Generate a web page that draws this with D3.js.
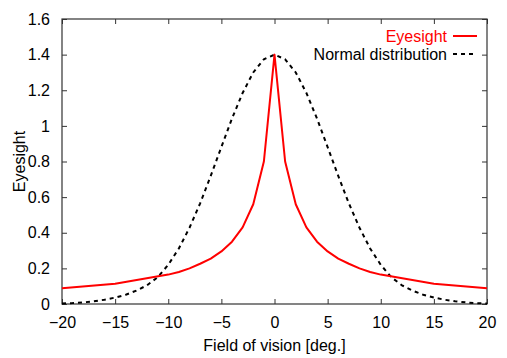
<!DOCTYPE html>
<html>
<head>
<meta charset="utf-8">
<script src="https://cdn.jsdelivr.net/npm/d3@7"></script>
<style>
  body { margin: 0; background: #fff; }
  svg text { font-family: "Liberation Sans", Arial, sans-serif; }
  .axis path { display: none; }
  .axis line { stroke: #333; }
  .axis text { font-size: 16px; fill: #000; }
</style>
</head>
<body>
<div id="chart"></div>
<script>
// eyesight (red)
var eyeX = [-20, -15, -10, -9, -8, -7, -6, -5, -4, -3, -2, -1, 0, 1, 2, 3, 4, 5, 6, 7, 8, 9, 10, 15, 20];
var eyeY = [0.088, 0.114, 0.165, 0.18, 0.2, 0.226, 0.255, 0.295, 0.35, 0.43, 0.56, 0.8, 1.4,
            0.8, 0.56, 0.43, 0.35, 0.295, 0.255, 0.226, 0.2, 0.18, 0.165, 0.114, 0.088];

// normal distribution (dashed black)
var normX = [-20, -19, -18, -17, -16, -15, -14, -13, -12, -11, -10, -9, -8, -7, -6, -5, -4, -3, -2, -1, 0,
             1, 2, 3, 4, 5, 6, 7, 8, 9, 10, 11, 12, 13, 14, 15, 16, 17, 18, 19, 20];
var normY = [0.003, 0.005, 0.009, 0.015, 0.024, 0.036, 0.052, 0.075, 0.105, 0.15, 0.22, 0.312, 0.428, 0.565, 0.719, 0.881, 1.041, 1.185, 1.3, 1.374, 1.4,
             1.374, 1.3, 1.185, 1.041, 0.881, 0.719, 0.565, 0.428, 0.312, 0.22, 0.15, 0.105, 0.075, 0.052, 0.036, 0.024, 0.015, 0.009, 0.005, 0.003];

var xTicks = [-20, -15, -10, -5, 0, 5, 10, 15, 20];
var yTicks = [0, 0.2, 0.4, 0.6, 0.8, 1, 1.2, 1.4, 1.6];

var margin = {top: 19, right: 20, bottom: 54, left: 62},
    width = 507 - margin.left - margin.right,
    height = 358 - margin.top - margin.bottom;

var svg = d3.select("#chart").append("svg")
    .attr("width", 507)
    .attr("height", 358);

var g = svg.append("g")
    .attr("transform", "translate(" + margin.left + "," + margin.top + ")");

var x = d3.scaleLinear().domain([-20, 20]).range([0, width]);
var y = d3.scaleLinear().domain([0, 1.6]).range([height, 0]);

// axes, ticks pointing inward on all four sides
g.append("g")
    .attr("class", "axis")
    .attr("transform", "translate(0," + height + ")")
    .call(d3.axisBottom(x).tickValues(xTicks).tickSizeInner(-5).tickSizeOuter(0).tickPadding(13));

g.append("g")
    .attr("class", "axis")
    .call(d3.axisTop(x).tickValues(xTicks).tickSizeInner(-5).tickSizeOuter(0).tickFormat(""));

g.append("g")
    .attr("class", "axis")
    .call(d3.axisLeft(y).tickValues(yTicks).tickSizeInner(-5).tickSizeOuter(0).tickPadding(12)
        .tickFormat(function(d) { return d3.format("")(+d.toFixed(1)); }));

g.append("g")
    .attr("class", "axis")
    .attr("transform", "translate(" + width + ",0)")
    .call(d3.axisRight(y).tickValues(yTicks).tickSizeInner(-5).tickSizeOuter(0).tickFormat(""));

// frame
g.append("rect")
    .attr("width", width)
    .attr("height", height)
    .attr("fill", "none")
    .attr("stroke", "#333")
    .attr("stroke-width", 1.2);

var line = d3.line()
    .x(function(d) { return x(d[0]); })
    .y(function(d) { return y(d[1]); });

g.append("path")
    .datum(d3.zip(normX, normY))
    .attr("fill", "none")
    .attr("stroke", "#000")
    .attr("stroke-width", 2)
    .attr("stroke-dasharray", "4,4")
    .attr("d", line);

g.append("path")
    .datum(d3.zip(eyeX, eyeY))
    .attr("fill", "none")
    .attr("stroke", "#ff0000")
    .attr("stroke-width", 2)
    .attr("stroke-linejoin", "round")
    .attr("d", line);

// legend
var legend = g.append("g").attr("transform", "translate(" + (width - 8) + ",0)");
legend.append("text")
    .attr("x", -32).attr("y", 22.5)
    .attr("text-anchor", "end")
    .attr("font-size", 16)
    .attr("fill", "#ff0000")
    .text("Eyesight");
legend.append("line")
    .attr("x1", -26).attr("x2", -2).attr("y1", 17).attr("y2", 17)
    .attr("stroke", "#ff0000").attr("stroke-width", 2);
legend.append("text")
    .attr("x", -32).attr("y", 40.5)
    .attr("text-anchor", "end")
    .attr("font-size", 16)
    .attr("fill", "#000")
    .text("Normal distribution");
legend.append("line")
    .attr("x1", -26).attr("x2", -6).attr("y1", 35).attr("y2", 35)
    .attr("stroke", "#000").attr("stroke-width", 2).attr("stroke-dasharray", "4,4");

// axis titles
svg.append("text")
    .attr("x", margin.left + width / 2)
    .attr("y", 351)
    .attr("text-anchor", "middle")
    .attr("font-size", 16)
    .text("Field of vision [deg.]");

svg.append("text")
    .attr("transform", "translate(25," + (margin.top + height / 2) + ") rotate(-90)")
    .attr("text-anchor", "middle")
    .attr("font-size", 16)
    .text("Eyesight");
</script>
</body>
</html>
